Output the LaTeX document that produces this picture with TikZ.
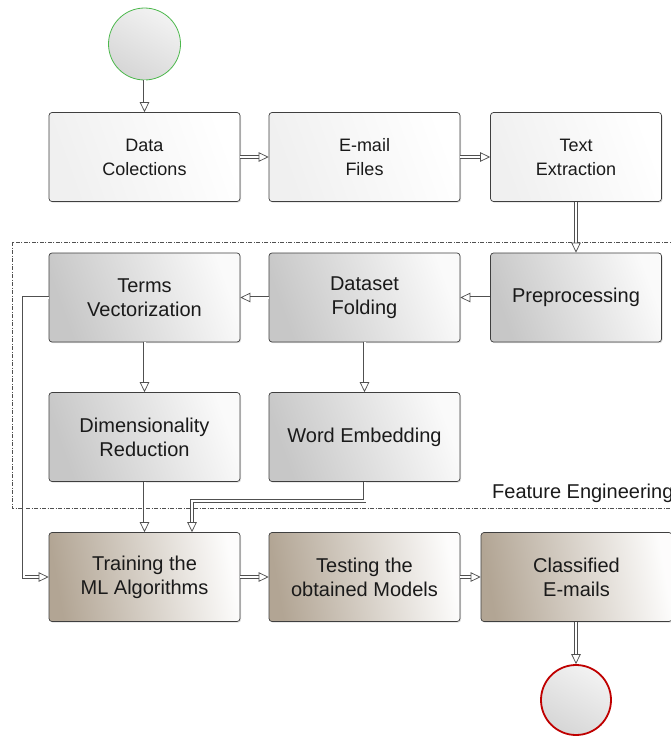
\documentclass[tikz,border=0pt]{standalone}
\usepackage{fontspec}
\setmainfont{Liberation Sans}
\usetikzlibrary{arrows.meta,shadows,calc}
\definecolor{lc}{HTML}{505050}
\definecolor{bd}{HTML}{3F3F3F}
\definecolor{txt}{HTML}{1A1A1A}
\definecolor{taupe}{HTML}{B2A594}
\tikzset{
  box/.style={rectangle, rounded corners=3pt, draw=bd, line width=0.7pt,
    minimum width=191pt, minimum height=89pt, inner sep=0pt, align=center,
    text=txt, drop shadow={shadow xshift=1pt, shadow yshift=-1.2pt, opacity=0.25}},
  narrow/.style={minimum width=171pt},
  whitebox/.style={box, left color=white!94!black, right color=white, shading angle=110, font=\fontsize{18}{24}\selectfont},
  graybox/.style={box, left color=white!78!black, right color=white!98!black, shading angle=110, font=\fontsize{20}{24}\selectfont},
  brownbox/.style={box, left color=taupe, right color=white!97!taupe, shading angle=100, font=\fontsize{20}{24}\selectfont},
  conn/.style={draw=lc, line width=0.75pt, double=white, double distance=2pt,
    -{Triangle[open, length=10pt, width=9.5pt]}},
}
\begin{document}
\begin{tikzpicture}[x=1pt, y=-1pt]
\useasboundingbox (0,0) rectangle (670,736);
% feature engineering frame
\draw[lc, line width=0.6pt, dash pattern=on 4pt off 1.5pt on 1pt off 1.5pt] (12,242) rectangle (690,508);
\node[anchor=base west, font=\fontsize{20}{24}\selectfont, text=txt, inner sep=0pt] (fe) at (492,498) {Feature Engineering};
% circles
\node[circle, minimum size=72pt, inner sep=0pt, draw=green!60!black!70, line width=0.8pt, top color=white!95!black, bottom color=white!84!black, shading angle=-30] (start) at (144.5,44) {};
\node[circle, minimum size=70pt, inner sep=0pt, draw=red!75!black, line width=1.8pt, top color=white!95!black, bottom color=white!84!black, shading angle=-30] (end) at (576,700) {};
% row 1
\node[whitebox] (dc) at (144.5,157) {Data\\Colections};
\node[whitebox] (ef) at (364.5,157) {E-mail\\Files};
\node[whitebox, narrow] (te) at (576,157) {Text\\Extraction};
% row 2
\node[graybox] (tv) at (144.5,297.5) {Terms\\Vectorization};
\node[graybox] (df) at (364.5,297.5) {Dataset\\Folding};
\node[graybox, narrow] (pp) at (576,297.5) {Preprocessing};
% row 3
\node[graybox] (dr) at (144.5,437) {Dimensionality\\Reduction};
\node[graybox] (we) at (364.5,437) {Word Embedding};
% row 4
\node[brownbox] (tr) at (144.5,577) {Training the\\ML Algorithms};
\node[brownbox] (ts) at (364.5,577) {Testing the\\obtained Models};
\node[brownbox] (ce) at (576.5,577) {Classified\\E-mails};
% connectors
\draw[conn] (start) -- (dc);
\draw[conn] (dc) -- (ef);
\draw[conn] (ef) -- (te);
\draw[conn] (te) -- (pp);
\draw[conn] (pp) -- (df);
\draw[conn] (df) -- (tv);
\draw[conn] (tv) -- (dr);
\draw[conn] (df) -- (we);
\draw[conn] (dr) -- (tr);
\draw[conn] (we.south) -- ++(0,19) -| ([xshift=47.5pt]tr.north);
\draw[conn] (tv.west) -- ++(-25,0) |- (tr.west);
\draw[conn] (tr) -- (ts);
\draw[conn] (ts) -- (ce);
\draw[conn] (ce.south -| end.north) -- (end);
\end{tikzpicture}
\end{document}
